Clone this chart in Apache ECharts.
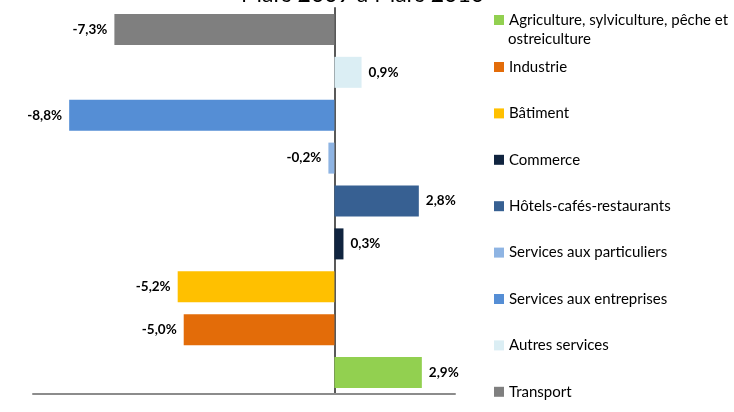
<!DOCTYPE html>
<html>
<head>
<meta charset="utf-8">
<script src="https://cdn.jsdelivr.net/npm/echarts@6/dist/echarts.min.js"></script>
<style>
  html, body { margin: 0; padding: 0; background: #fff; }
  #chart { width: 734px; height: 412px; }
</style>
</head>
<body>
<div id="chart"></div>
<script>
// secteurs, du bas vers le haut du graphique
var categories = [
  'Agriculture, sylviculture, pêche et ostreiculture',
  'Industrie',
  'Bâtiment',
  'Commerce',
  'Hôtels-cafés-restaurants',
  'Services aux particuliers',
  'Services aux entreprises',
  'Autres services',
  'Transport'
];
var values = [2.9, -5.0, -5.2, 0.3, 2.8, -0.2, -8.8, 0.9, -7.3];
var colors = ['#92D050', '#E36C09', '#FFC000', '#10243F', '#376092', '#8EB4E3', '#558ED5', '#DBEEF4', '#7F7F7F'];
var titleText = 'Mars 2009 à Mars 2010';

var chartDom = document.getElementById('chart');
var myChart = echarts.init(chartDom);
var font = 'Lato, "Open Sans", sans-serif';

var series = categories.map(function (name, i) {
  return {
    name: name,
    type: 'bar',
    stack: 'total',
    barWidth: 31,
    itemStyle: { color: colors[i] },
    label: {
      show: true,
      position: values[i] >= 0 ? 'right' : 'left',
      distance: 7,
      color: '#000',
      fontWeight: 'bold',
      fontSize: 13.5,
      fontFamily: font,
      formatter: function (p) {
        return p.value.toFixed(1).replace('.', ',') + '%';
      }
    },
    data: categories.map(function (c, j) { return j === i ? values[j] : null; })
  };
});

var legendText = { fontFamily: font, fontSize: 15, color: '#000', lineHeight: 18 };

var option = {
  animation: false,
  title: {
    text: titleText,
    left: 236,
    top: -22,
    textStyle: { fontFamily: font, fontWeight: 'normal', fontSize: 23, color: '#000' }
  },
  legend: [
    {
      data: [categories[0]],
      orient: 'vertical',
      left: 494,
      top: 11,
      padding: 0,
      itemWidth: 10,
      itemHeight: 10,
      icon: 'rect',
      formatter: function () { return 'Agriculture, sylviculture, pêche et'; },
      textStyle: legendText
    },
    {
      data: categories.slice(1),
      orient: 'vertical',
      left: 494,
      top: 58,
      padding: 0,
      itemWidth: 10,
      itemHeight: 10,
      itemGap: 28.4,
      icon: 'rect',
      textStyle: legendText
    }
  ],
  graphic: [
    {
      type: 'text',
      left: 508,
      top: 32,
      style: { text: 'ostreiculture', font: '15px Lato, sans-serif', fill: '#000' }
    }
  ],
  grid: { left: 33, right: 279, top: 8, height: 386 },
  xAxis: {
    type: 'value',
    min: -10,
    max: 4,
    axisLabel: { show: false },
    axisTick: { show: false },
    splitLine: { show: false },
    axisLine: { show: true, lineStyle: { color: '#8C8C8C', width: 2 } }
  },
  yAxis: {
    type: 'category',
    data: categories,
    axisLabel: { show: false },
    axisTick: { show: false },
    axisLine: { show: true, onZero: true, lineStyle: { color: '#595959', width: 2 } }
  },
  series: series
};
myChart.setOption(option);
</script>
</body>
</html>
